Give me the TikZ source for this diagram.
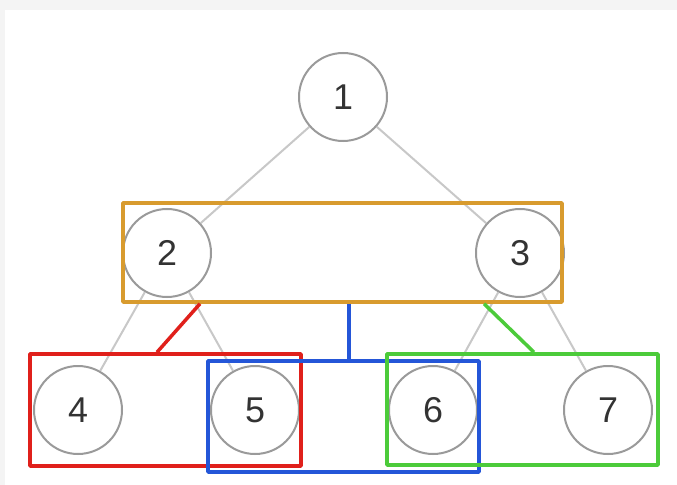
\documentclass[tikz,border=0pt]{standalone}
\usepackage{fontspec}
\setmainfont{Liberation Sans}
\definecolor{bgout}{HTML}{F4F4F4}
\definecolor{ringgray}{HTML}{9A9A9A}
\definecolor{edgegray}{HTML}{C8C8C8}
\definecolor{txtgray}{HTML}{333333}
\definecolor{grporange}{HTML}{D89B2E}
\definecolor{grpred}{HTML}{E0201B}
\definecolor{grpblue}{HTML}{2456D8}
\definecolor{grpgreen}{HTML}{4CCB3A}
\begin{document}
\begin{tikzpicture}[
  x=1bp, y=-1bp,
  vertex/.style={circle, draw=ringgray, line width=2bp, fill=white,
                 minimum size=88bp, inner sep=0pt, text=txtgray,
                 font=\fontsize{36}{40}\selectfont},
  tree/.style={edgegray, line width=2bp},
  group/.style={draw, line width=3.5bp, line join=round, inner sep=0pt},
  link/.style={line width=3.5bp}
]
  % Background
  \fill[bgout] (0,0) rectangle (677,485);
  \fill[white] (5,10) rectangle (677,485);
  \useasboundingbox (0,0) rectangle (677,485);

  % Tree nodes
  \node[vertex] (n1) at (343,97) {1};
  \node[vertex] (n2) at (167,253) {2};
  \node[vertex] (n3) at (520,253) {3};
  \node[vertex] (n4) at (78,410) {4};
  \node[vertex] (n5) at (255,410) {5};
  \node[vertex] (n6) at (433,410) {6};
  \node[vertex] (n7) at (608,410) {7};

  % Tree edges
  \foreach \a/\b in {1/2,1/3,2/4,2/5,3/6,3/7} {
    \draw[tree] (n\a) -- (n\b);
  }

  % Groups
  \node[group, draw=grporange, minimum width=439bp, minimum height=99bp]
    (g23) at (342.5,252.5) {};
  \node[group, draw=grpred, minimum width=271bp, minimum height=112bp]
    (g45) at (165.5,410) {};
  \node[group, draw=grpblue, minimum width=271bp, minimum height=111bp]
    (g56) at (343.5,416.5) {};
  \node[group, draw=grpgreen, minimum width=271bp, minimum height=111bp]
    (g67) at (522.5,409.5) {};

  % Group links
  \draw[link, grpred] (g23.south -| 200,0) -- (g45.north -| 157,0);
  \draw[link, grpblue] (g23.south -| 349,0) -- (g56.north -| 349,0);
  \draw[link, grpgreen] (g23.south -| 484,0) -- (g67.north -| 534,0);
\end{tikzpicture}
\end{document}
